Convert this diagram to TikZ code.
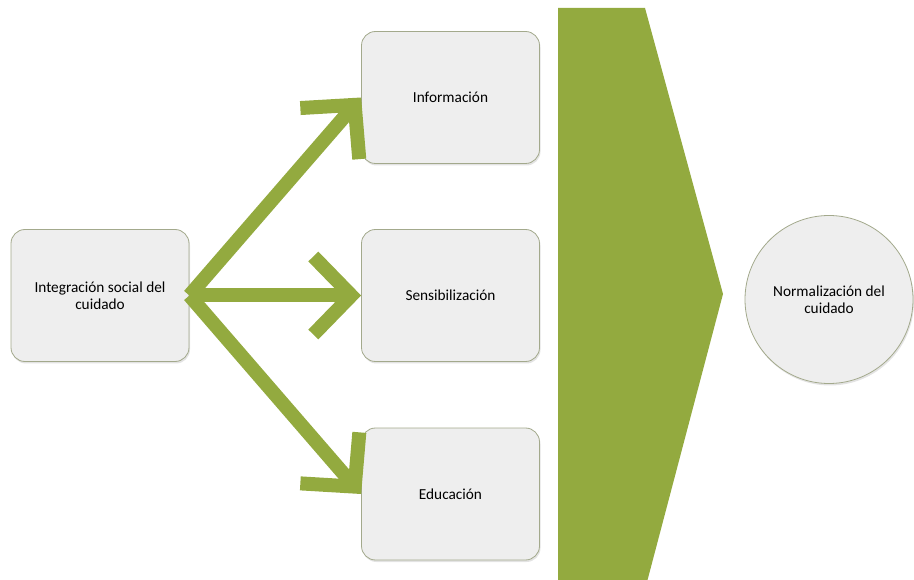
\documentclass[tikz,border=0pt]{standalone}
\usepackage{fontspec}
\setmainfont{Carlito}
\usetikzlibrary{arrows.meta,shadows}
\definecolor{arrowgreen}{HTML}{93AA3F}
\definecolor{boxfill}{HTML}{EEEEEE}
\definecolor{boxline}{HTML}{A3A98C}
\tikzset{
  card/.style={draw=boxline, fill=boxfill, line width=0.8pt, rounded corners=14pt,
    minimum width=178pt, minimum height=132pt, align=center,
    font=\fontsize{15.3}{16.5}\selectfont,
    drop shadow={opacity=0.22, shadow xshift=1pt, shadow yshift=-2pt}},
  roundcard/.style={card, circle, rounded corners=0pt, minimum size=168pt},
  fatarrow/.style={draw=arrowgreen, line width=14pt,
    -{Straight Barb[sharp, length=38pt, width=78pt]}}
}
\begin{document}
\begin{tikzpicture}[x=1pt,y=-1pt]
\useasboundingbox (0,0) rectangle (914,580);
% chevron
\fill[arrowgreen] (558,8) -- (645,8) -- (723,294) -- (647,582) -- (558,582) -- cycle;
% nodes
\node[card] (src) at (100,295.5) {Integración social del\\cuidado};
\node[card] (inf) at (450.5,97.5) {Información};
\node[card] (sen) at (450.5,295.5) {Sensibilización};
\node[card] (edu) at (450.5,494) {Educación};
\node[roundcard] (norm) at (829,299.5) {Normalización del\\cuidado};
% connectors
\draw[fatarrow] (src.east) -- (inf.west);
\draw[fatarrow] (src.east) -- (sen.west);
\draw[fatarrow] (src.east) -- (edu.west);
\end{tikzpicture}
\end{document}
